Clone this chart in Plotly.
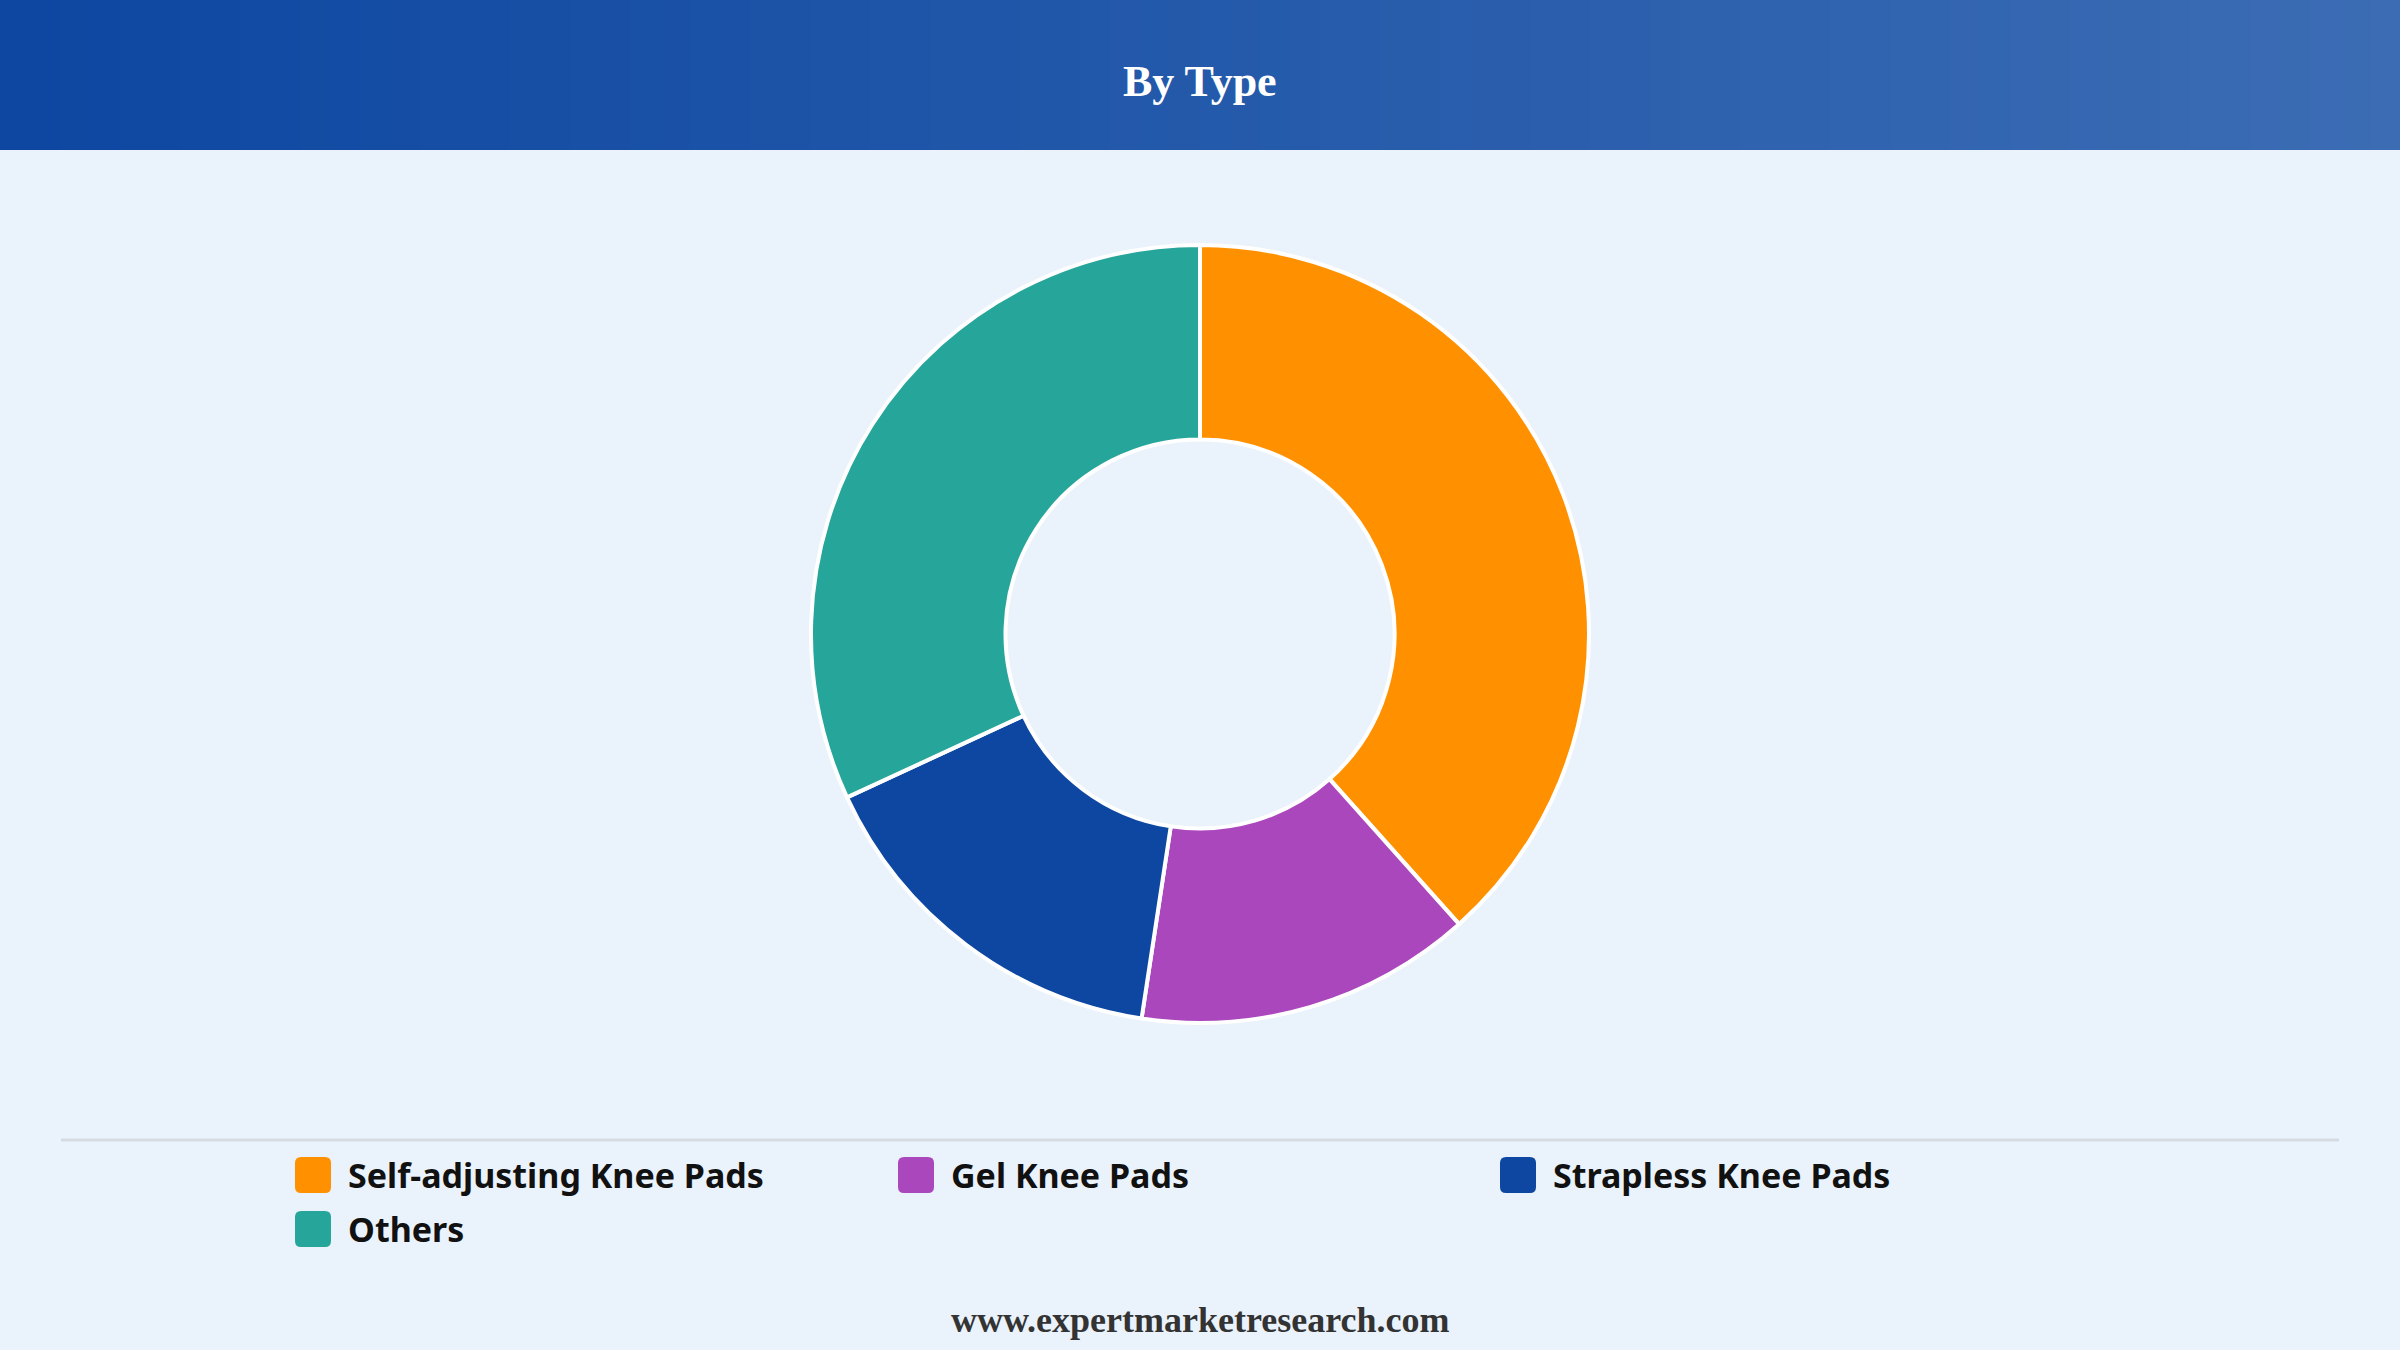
import plotly.graph_objects as go

# data
labels = ["Self-adjusting Knee Pads", "Gel Knee Pads", "Strapless Knee Pads", "Others"]
shares = [38.4, 14.0, 15.7, 31.9]
colors = ["#FF9100", "#AB47BC", "#0D47A1", "#26A69A"]

W, H = 2400, 1350
BG = "#EAF2FB"


def px_x(x):
    return x / W


def px_y(y):
    return 1 - y / H


fig = go.Figure()
fig.add_trace(
    go.Pie(
        labels=labels,
        values=shares,
        hole=0.5,
        sort=False,
        direction="clockwise",
        rotation=0,
        marker=dict(colors=colors, line=dict(color="white", width=4)),
        textinfo="none",
        hoverinfo="label+percent",
        showlegend=False,
        domain=dict(x=[0.3, 0.7], y=[px_y(1023), px_y(245)]),
    )
)

shapes = []
# header gradient band
c0, c1 = (13, 71, 161), (59, 108, 180)
n = 80
for i in range(n):
    t = i / (n - 1)
    col = "rgb(%d,%d,%d)" % tuple(round(a + (b - a) * t) for a, b in zip(c0, c1))
    shapes.append(dict(type="rect", xref="paper", yref="paper",
                       x0=i / n, x1=(i + 1) / n + 0.002, y0=px_y(150), y1=1,
                       fillcolor=col, line=dict(width=0), layer="below"))

# separator above legend
shapes.append(dict(type="line", xref="paper", yref="paper",
                   x0=px_x(61), x1=px_x(2339), y0=px_y(1140), y1=px_y(1140),
                   line=dict(color="#D5DBE3", width=3)))

annotations = [
    dict(text="<b>By Type</b>", x=0.5, y=px_y(81), xref="paper", yref="paper",
         showarrow=False, font=dict(family="Liberation Serif", size=44, color="white"),
         xanchor="center", yanchor="middle"),
    dict(text="<b>www.expertmarketresearch.com</b>", x=0.5, y=px_y(1320),
         xref="paper", yref="paper", showarrow=False,
         font=dict(family="Liberation Serif", size=36, color="#333333"),
         xanchor="center", yanchor="middle"),
]

# custom legend built from labels / colors
col_x = [295, 898, 1500]
row_y = [1175, 1229]
box = 36
r = 6
for i, (lab, col) in enumerate(zip(labels, colors)):
    x = col_x[i % 3]
    y = row_y[i // 3]
    x0, x1 = x, x + box
    y0, y1 = y - box / 2, y + box / 2
    # rounded square in pixel space converted to paper
    path = (
        f"M {px_x(x0 + r)},{px_y(y0)} L {px_x(x1 - r)},{px_y(y0)} "
        f"Q {px_x(x1)},{px_y(y0)} {px_x(x1)},{px_y(y0 + r)} "
        f"L {px_x(x1)},{px_y(y1 - r)} Q {px_x(x1)},{px_y(y1)} {px_x(x1 - r)},{px_y(y1)} "
        f"L {px_x(x0 + r)},{px_y(y1)} Q {px_x(x0)},{px_y(y1)} {px_x(x0)},{px_y(y1 - r)} "
        f"L {px_x(x0)},{px_y(y0 + r)} Q {px_x(x0)},{px_y(y0)} {px_x(x0 + r)},{px_y(y0)} Z"
    )
    shapes.append(dict(type="path", xref="paper", yref="paper", path=path,
                       fillcolor=col, line=dict(width=0)))
    annotations.append(dict(text=f"<b>{lab}</b>", x=px_x(x + box + 15), y=px_y(y),
                            xref="paper", yref="paper", showarrow=False,
                            xanchor="left", yanchor="middle",
                            font=dict(family="Noto Sans", size=34, color="#111111")))

fig.update_layout(
    width=W,
    height=H,
    margin=dict(l=0, r=0, t=0, b=0),
    paper_bgcolor=BG,
    plot_bgcolor=BG,
    shapes=shapes,
    annotations=annotations,
)

fig.write_html("out.html", config={"displayModeBar": False},
               post_script="document.body.style.margin='0';")
